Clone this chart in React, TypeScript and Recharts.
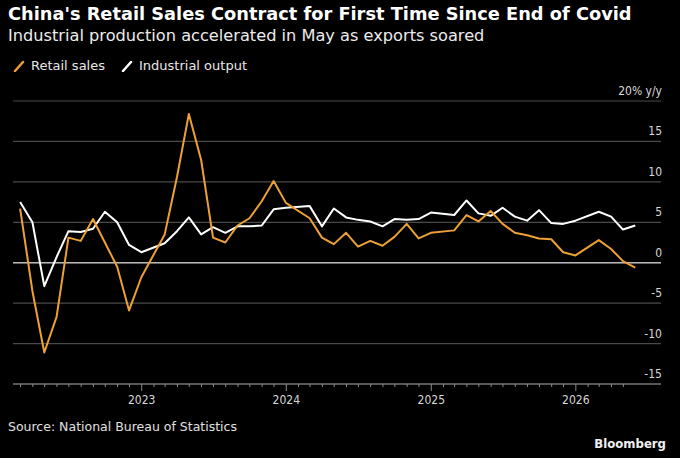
import React from "react";
import {
  LineChart,
  Line,
  XAxis,
  YAxis,
  CartesianGrid,
  ReferenceLine,
} from "recharts";

// Monthly data (January is folded into February in China's releases)
const MONTHS = [
  "2022-02", "2022-03", "2022-04", "2022-05", "2022-06", "2022-07", "2022-08",
  "2022-09", "2022-10", "2022-11", "2022-12",
  "2023-02", "2023-03", "2023-04", "2023-05", "2023-06", "2023-07", "2023-08",
  "2023-09", "2023-10", "2023-11", "2023-12",
  "2024-02", "2024-03", "2024-04", "2024-05", "2024-06", "2024-07", "2024-08",
  "2024-09", "2024-10", "2024-11", "2024-12",
  "2025-02", "2025-03", "2025-04", "2025-05", "2025-06", "2025-07", "2025-08",
  "2025-09", "2025-10", "2025-11", "2025-12",
  "2026-02", "2026-03", "2026-04", "2026-05",
];

const RETAIL = [
  6.7, -3.5, -11.1, -6.7, 3.1, 2.7, 5.4, 2.5, -0.5, -5.9, -1.8,
  3.5, 10.6, 18.4, 12.7, 3.1, 2.5, 4.6, 5.5, 7.6, 10.1, 7.4,
  5.5, 3.1, 2.3, 3.7, 2.0, 2.7, 2.1, 3.2, 4.8, 3.0, 3.7,
  4.0, 5.9, 5.1, 6.4, 4.8, 3.7, 3.4, 3.0, 2.9, 1.3, 0.9,
  2.8, 1.7, 0.2, -0.6,
];

const INDUSTRIAL = [
  7.5, 5.0, -2.9, 0.7, 3.9, 3.8, 4.2, 6.3, 5.0, 2.2, 1.3,
  2.4, 3.9, 5.6, 3.5, 4.4, 3.7, 4.5, 4.5, 4.6, 6.6, 6.8,
  7.0, 4.5, 6.7, 5.6, 5.3, 5.1, 4.5, 5.4, 5.3, 5.4, 6.2,
  5.9, 7.7, 6.1, 5.8, 6.8, 5.7, 5.2, 6.5, 4.9, 4.8, 5.2,
  6.3, 5.7, 4.1, 4.6,
];

const Y_TICKS = [-15, -10, -5, 0, 5, 10, 15, 20];
const Y_LABELS = ["-15", "-10", "-5", "0", "5", "10", "15", "20% y/y"];

const ORANGE = "#eda033";
const FONT = "'DejaVu Sans', sans-serif";
const FONT_COND = "'DejaVu Sans Condensed', 'DejaVu Sans', sans-serif";

// month-end timestamps
const toTime = (ym: string) => {
  const [y, m] = ym.split("-").map(Number);
  return Date.UTC(y, m, 0);
};

const rows = MONTHS.map((m, i) => ({
  t: toTime(m),
  retail: RETAIL[i],
  industrial: INDUSTRIAL[i],
}));

const X_START = Date.UTC(2022, 1, 10);
const X_END = Date.UTC(2026, 7, 4);

// tick at the start of every month, Mar 2022 .. May 2026
const X_TICKS: number[] = [];
for (let y = 2022; y <= 2026; y++) {
  for (let m = 0; m < 12; m++) {
    const d = Date.UTC(y, m, 1);
    if (d >= Date.UTC(2022, 2, 1) && d <= Date.UTC(2026, 4, 1)) X_TICKS.push(d);
  }
}

function XTick({ x, y, payload }: any) {
  const d = new Date(payload.value);
  const isYear = d.getUTCMonth() === 0;
  return (
    <g>
      <line x1={x} x2={x} y1={y} y2={y + (isYear ? 7 : 3)} stroke="#8a8a8a" strokeWidth={1} />
      {isYear && (
        <text x={x} y={y + 20} textAnchor="middle" fill="#d8d8d8" fontSize={12} fontFamily={FONT_COND}>
          {d.getUTCFullYear()}
        </text>
      )}
    </g>
  );
}

function YTick({ x, y, payload }: any) {
  const idx = Y_TICKS.indexOf(payload.value);
  return (
    <text x={x + 1} y={y - 6} textAnchor="end" fill="#d8d8d8" fontSize={12} fontFamily={FONT_COND}>
      {Y_LABELS[idx]}
    </text>
  );
}

function Slash({ color }: { color: string }) {
  return (
    <svg width={12} height={12} style={{ marginRight: 6 }}>
      <line x1={2} y1={11} x2={10} y2={2} stroke={color} strokeWidth={2.5} strokeLinecap="round" />
    </svg>
  );
}

export default function App() {
  return (
    <div
      style={{
        position: "relative",
        width: 680,
        height: 458,
        background: "#000",
        color: "#fff",
        fontFamily: FONT,
        overflow: "hidden",
      }}
    >
      <style>{"body{margin:0;background:#000}"}</style>
      <div style={{ position: "absolute", left: 8, top: 3, fontSize: 17.8, fontWeight: 700, whiteSpace: "nowrap" }}>
        China's Retail Sales Contract for First Time Since End of Covid
      </div>
      <div style={{ position: "absolute", left: 8, top: 26, fontSize: 16.2, color: "#ececec", whiteSpace: "nowrap" }}>
        Industrial production accelerated in May as exports soared
      </div>
      <div
        style={{
          position: "absolute",
          left: 13,
          top: 58,
          fontSize: 13,
          color: "#e8e8e8",
          display: "flex",
          alignItems: "center",
          whiteSpace: "nowrap",
        }}
      >
        <Slash color={ORANGE} />
        <span style={{ marginRight: 16 }}>Retail sales</span>
        <Slash color="#ffffff" />
        <span>Industrial output</span>
      </div>

      <div style={{ position: "absolute", left: 0, top: 0 }}>
        <LineChart
          width={680}
          height={458}
          data={rows}
          margin={{ top: 101, right: 18, bottom: 44, left: 13 }}
        >
          <CartesianGrid vertical={false} stroke="#4a4a4a" strokeWidth={1.2} />
          <XAxis
            dataKey="t"
            type="number"
            domain={[X_START, X_END]}
            allowDataOverflow
            ticks={X_TICKS}
            interval={0}
            tickLine={false}
            tickSize={0}
            tickMargin={0}
            height={30}
            axisLine={{ stroke: "#8a8a8a", strokeWidth: 1.2 }}
            tick={<XTick />}
          />
          <YAxis
            orientation="right"
            type="number"
            domain={[-15, 20]}
            ticks={Y_TICKS}
            interval={0}
            width={1}
            tickLine={false}
            tickSize={0}
            tickMargin={0}
            axisLine={false}
            tick={<YTick />}
          />
          <ReferenceLine y={0} stroke="#b8b8b8" strokeWidth={1.5} />
          <Line
            dataKey="industrial"
            stroke="#ffffff"
            strokeWidth={2}
            dot={false}
            isAnimationActive={false}
            strokeLinejoin="round"
          />
          <Line
            dataKey="retail"
            stroke={ORANGE}
            strokeWidth={2}
            dot={false}
            isAnimationActive={false}
            strokeLinejoin="round"
          />
        </LineChart>
      </div>

      <div style={{ position: "absolute", left: 8, top: 419, fontSize: 12.5, color: "#e0e0e0", whiteSpace: "nowrap" }}>
        Source: National Bureau of Statistics
      </div>
      <div style={{ position: "absolute", right: 14, top: 436, fontSize: 13, fontWeight: 700, color: "#f0f0f0", fontFamily: FONT_COND }}>
        Bloomberg
      </div>
    </div>
  );
}
